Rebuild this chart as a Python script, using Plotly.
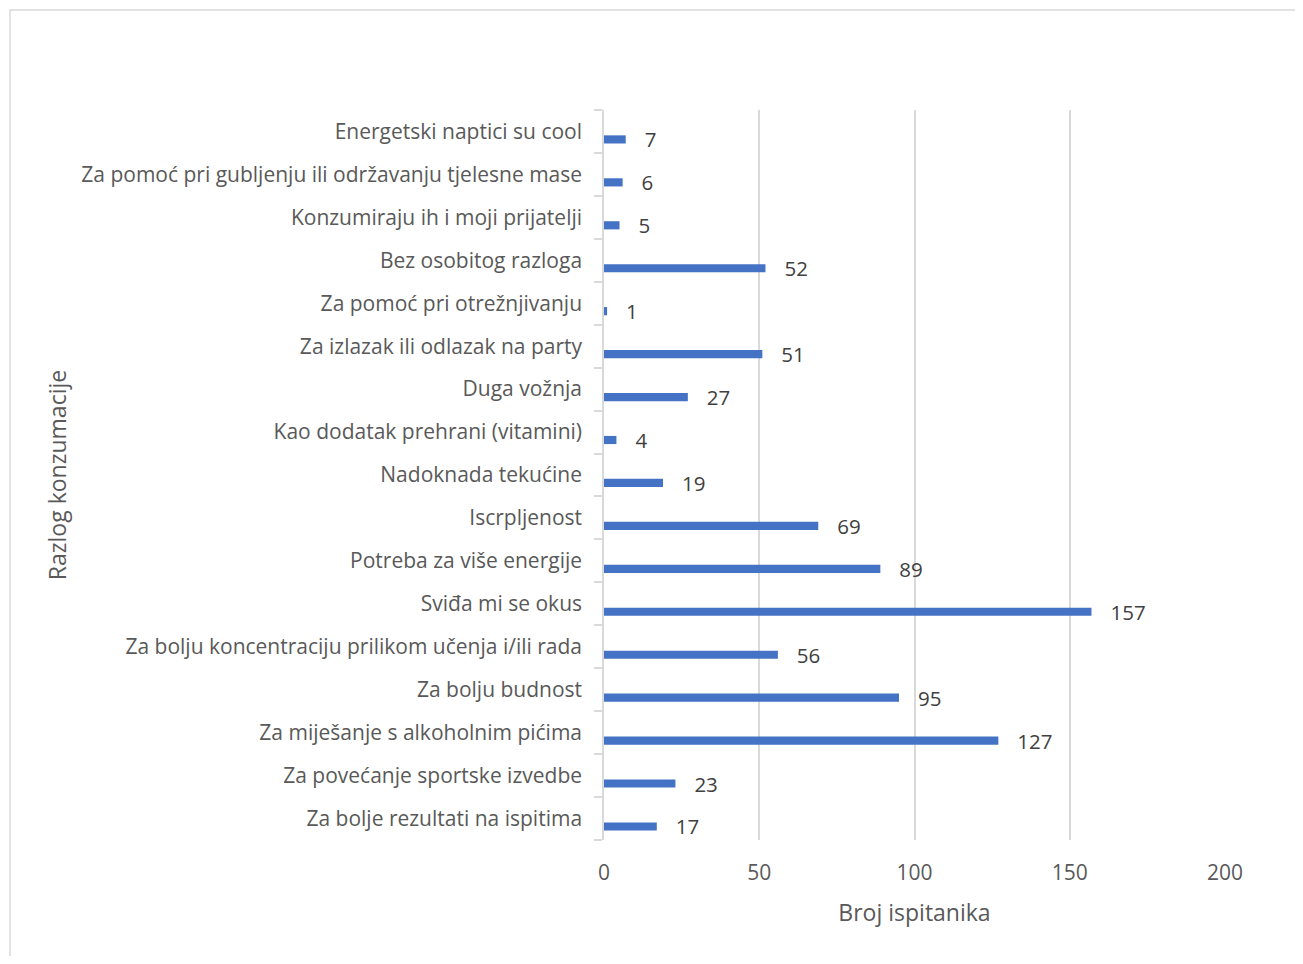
import plotly.graph_objects as go

categories = [
    "Za bolje rezultati na ispitima",
    "Za povećanje sportske izvedbe",
    "Za miješanje s alkoholnim pićima",
    "Za bolju budnost",
    "Za bolju koncentraciju prilikom učenja i/ili rada",
    "Sviđa mi se okus",
    "Potreba za više energije",
    "Iscrpljenost",
    "Nadoknada tekućine",
    "Kao dodatak prehrani (vitamini)",
    "Duga vožnja",
    "Za izlazak ili odlazak na party",
    "Za pomoć pri otrežnjivanju",
    "Bez osobitog razloga",
    "Konzumiraju ih i moji prijatelji",
    "Za pomoć pri gubljenju ili održavanju tjelesne mase",
    "Energetski naptici su cool",
]
values = [17, 23, 127, 95, 56, 157, 89, 69, 19, 4, 27, 51, 1, 52, 5, 6, 7]
x_ticks = [0, 50, 100, 150, 200]

FONT = "Open Sans"
OFF = 8  # page body margin
W, H = 1303 - 2 * OFF, 964 - 2 * OFF
L, T = 604 - OFF, 110 - OFF
R = W + OFF - 1225
B = H + OFF - 840

fig = go.Figure()
fig.add_trace(go.Bar(
    x=values, y=categories, orientation="h",
    marker=dict(color="#4472C4", line=dict(width=0)),
    width=0.19, offset=-0.28,
    text=["\u00a0\u00a0\u00a0" + str(v) for v in values],
    textposition="outside", constraintext="none", cliponaxis=False,
    textfont=dict(family=FONT, size=20.5, color="#404040"),
    hoverinfo="x+y",
))

pw, ph = W - L - R, H - T - B
fig.add_shape(type="rect", xref="paper", yref="paper",
              x0=(10 - OFF - L) / pw, x1=(W + 20 - L) / pw,
              y0=(H - B - (H + 20)) / ph, y1=(H - B - (10 - OFF)) / ph,
              line=dict(color="#d9d9d9", width=1.5), fillcolor="rgba(0,0,0,0)", layer="below")

fig.update_layout(
    width=W, height=H,
    margin=dict(l=L, r=R, t=T, b=B),
    paper_bgcolor="white", plot_bgcolor="white",
    showlegend=False,
    font=dict(family=FONT, color="#595959"),
    xaxis=dict(
        range=[0, 200], tickvals=x_ticks, showgrid=True, gridcolor="#d9d9d9", gridwidth=1.5,
        zeroline=False, showline=False, ticks="",
        tickfont=dict(family=FONT, size=21, color="#595959"),
        ticklabelstandoff=18,
        title=dict(text="Broj ispitanika", font=dict(family=FONT, size=23, color="#595959"), standoff=19),
    ),
    yaxis=dict(
        type="category", categoryorder="array", categoryarray=categories,
        tickson="boundaries", ticks="outside", ticklen=8, tickcolor="#d9d9d9", tickwidth=1.5,
        showline=True, linecolor="#d9d9d9", linewidth=1.5, showgrid=False,
        tickfont=dict(family=FONT, size=21, color="#595959"),
        ticklabelstandoff=16,
        title=dict(text="Razlog konzumacije", font=dict(family=FONT, size=23, color="#595959"), standoff=8),
    ),
)

fig.write_html("out.html")
